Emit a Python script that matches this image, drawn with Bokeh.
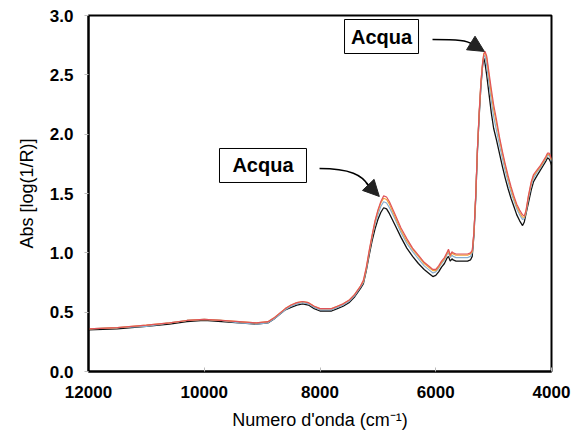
from bokeh.plotting import figure
from bokeh.models import Range1d, FixedTicker, NumeralTickFormatter, Arrow, NormalHead
from bokeh.core.properties import value
from bokeh.embed import file_html
from bokeh.resources import INLINE

wn = [12000, 11500, 11000, 10600, 10300, 10000, 9700, 9400, 9100, 8900,
      8800, 8700, 8600, 8500, 8400, 8300, 8200, 8100, 8000, 7900,
      7800, 7700, 7600, 7500, 7400, 7300, 7250, 7200, 7150, 7100,
      7050, 7000, 6950, 6900, 6850, 6800, 6700, 6600, 6500, 6400,
      6300, 6200, 6100, 6050, 6000, 5950, 5900, 5850, 5800, 5780,
      5750, 5720, 5700, 5650, 5600, 5500, 5450, 5400, 5370, 5340,
      5310, 5280, 5250, 5220, 5190, 5170, 5150, 5120, 5080, 5040,
      5000, 4950, 4900, 4850, 4800, 4750, 4700, 4650, 4600, 4550,
      4500, 4470, 4440, 4400, 4350, 4310, 4250, 4200, 4150, 4100,
      4070, 4040, 4020, 4000]

abs_black = [0.35, 0.36, 0.38, 0.40, 0.42, 0.43, 0.42, 0.41, 0.40, 0.41,
             0.44, 0.48, 0.52, 0.54, 0.56, 0.57, 0.56, 0.53, 0.51, 0.51,
             0.51, 0.53, 0.55, 0.58, 0.63, 0.70, 0.74, 0.85, 0.98, 1.10,
             1.20, 1.28, 1.34, 1.38, 1.37, 1.33, 1.23, 1.13, 1.04, 0.97,
             0.91, 0.86, 0.82, 0.80, 0.81, 0.84, 0.88, 0.91, 0.96, 0.97,
             0.93, 0.95, 0.94, 0.93, 0.93, 0.93, 0.93, 0.94, 0.97, 1.15,
             1.45, 1.85, 2.15, 2.40, 2.58, 2.64, 2.60, 2.50, 2.34, 2.18,
             2.05, 1.95, 1.84, 1.73, 1.63, 1.54, 1.46, 1.39, 1.32, 1.27,
             1.23, 1.26, 1.33, 1.42, 1.53, 1.60, 1.65, 1.69, 1.73, 1.77,
             1.80, 1.79, 1.77, 1.74]

abs_blue = [0.36, 0.37, 0.38, 0.41, 0.43, 0.44, 0.43, 0.41, 0.40, 0.41,
            0.44, 0.48, 0.52, 0.55, 0.57, 0.58, 0.57, 0.54, 0.52, 0.52,
            0.52, 0.54, 0.56, 0.59, 0.64, 0.71, 0.75, 0.86, 1.00, 1.13,
            1.24, 1.32, 1.39, 1.43, 1.42, 1.38, 1.28, 1.17, 1.08, 1.01,
            0.95, 0.89, 0.85, 0.83, 0.84, 0.87, 0.91, 0.94, 0.99, 1.00,
            0.96, 0.98, 0.97, 0.96, 0.96, 0.96, 0.96, 0.97, 1.00, 1.17,
            1.47, 1.87, 2.17, 2.42, 2.59, 2.66, 2.66, 2.58, 2.43, 2.28,
            2.15, 2.03, 1.91, 1.80, 1.69, 1.60, 1.51, 1.44, 1.37, 1.32,
            1.28, 1.29, 1.34, 1.45, 1.57, 1.63, 1.68, 1.71, 1.75, 1.79,
            1.82, 1.82, 1.80, 1.77]

abs_orange = [0.36, 0.37, 0.39, 0.41, 0.43, 0.44, 0.43, 0.42, 0.41, 0.42,
              0.45, 0.49, 0.53, 0.56, 0.58, 0.59, 0.58, 0.55, 0.53, 0.53,
              0.53, 0.55, 0.57, 0.60, 0.65, 0.72, 0.76, 0.87, 1.01, 1.14,
              1.26, 1.35, 1.42, 1.46, 1.45, 1.41, 1.30, 1.19, 1.10, 1.03,
              0.97, 0.91, 0.87, 0.85, 0.85, 0.88, 0.92, 0.95, 1.00, 1.02,
              0.97, 1.00, 0.99, 0.98, 0.98, 0.98, 0.98, 0.99, 1.01, 1.17,
              1.48, 1.88, 2.18, 2.44, 2.61, 2.68, 2.69, 2.64, 2.49, 2.34,
              2.21, 2.09, 1.96, 1.84, 1.73, 1.63, 1.54, 1.46, 1.39, 1.34,
              1.30, 1.30, 1.35, 1.47, 1.59, 1.65, 1.69, 1.72, 1.76, 1.80,
              1.83, 1.83, 1.81, 1.78]

abs_red = [0.36, 0.37, 0.39, 0.41, 0.43, 0.44, 0.43, 0.42, 0.41, 0.42,
           0.45, 0.49, 0.53, 0.56, 0.58, 0.59, 0.58, 0.55, 0.53, 0.53,
           0.53, 0.55, 0.57, 0.60, 0.65, 0.72, 0.77, 0.88, 1.02, 1.15,
           1.27, 1.36, 1.43, 1.48, 1.47, 1.43, 1.32, 1.21, 1.12, 1.04,
           0.98, 0.92, 0.88, 0.86, 0.86, 0.89, 0.93, 0.96, 1.01, 1.03,
           0.98, 1.01, 1.00, 0.99, 0.99, 0.99, 0.99, 1.00, 1.02, 1.18,
           1.48, 1.88, 2.18, 2.44, 2.60, 2.67, 2.70, 2.66, 2.52, 2.38,
           2.25, 2.12, 1.98, 1.86, 1.75, 1.65, 1.56, 1.48, 1.41, 1.36,
           1.32, 1.31, 1.36, 1.48, 1.60, 1.66, 1.70, 1.73, 1.77, 1.81,
           1.84, 1.84, 1.82, 1.79]

x_ticks = [12000, 10000, 8000, 6000, 4000]
y_ticks = [0.0, 0.5, 1.0, 1.5, 2.0, 2.5, 3.0]
x_title = "Numero d'onda (cm\u207b\u00b9)"
y_title = "Abs [log(1/R)]"

# annotation boxes (centre in data units)
label_text = ["Acqua", "Acqua"]
label_x = [8985, 6937]
label_y = [1.736, 2.823]
label_w = [87, 74]

# arrow shafts (bezier) and heads
shaft_x0 = [8008, 6056]
shaft_y0 = [1.711, 2.798]
shaft_cx0 = [7473, 5606]
shaft_cy0 = [1.711, 2.798]
shaft_cx1 = [7265, 5450]
shaft_cy1 = [1.652, 2.790]
shaft_x1 = [7170, 5380]
shaft_y1 = [1.570, 2.760]
head_xs = [7200, 5400]
head_ys = [1.590, 2.770]
head_xe = [6975, 5160]
head_ye = [1.475, 2.697]

p = figure(width=572, height=433, output_backend="svg", toolbar_location=None,
           x_range=Range1d(12000, 4000), y_range=Range1d(0, 3.0),
           min_border_left=88, min_border_right=21, min_border_top=15,
           min_border_bottom=62)
p.background_fill_color = "white"
p.border_fill_color = "white"
p.outline_line_color = "black"
p.outline_line_width = 2
p.xgrid.visible = False
p.ygrid.visible = False

font = "Liberation Sans"
for ax in (p.xaxis[0], p.yaxis[0]):
    ax.axis_line_color = "black"
    ax.axis_line_width = 2
    ax.major_tick_line_color = "#bbbbbb"
    ax.minor_tick_line_color = None
    ax.major_label_text_font = font
    ax.major_label_text_font_style = "bold"
    ax.major_label_text_font_size = "17px"
    ax.major_label_text_color = "black"
    ax.axis_label_text_font = font
    ax.axis_label_text_font_style = "normal"
    ax.axis_label_text_font_size = "18px"
    ax.axis_label_text_color = "black"

p.xaxis.ticker = FixedTicker(ticks=x_ticks)
p.yaxis.ticker = FixedTicker(ticks=y_ticks)
p.yaxis.formatter = NumeralTickFormatter(format="0.0")
p.xaxis.formatter = NumeralTickFormatter(format="0")
p.xaxis.major_tick_in = 4
p.xaxis.major_tick_out = 0
p.yaxis.major_tick_in = 0
p.yaxis.major_tick_out = 4
p.xaxis.major_label_standoff = 14
p.yaxis.major_label_standoff = 11
p.xaxis.axis_label = x_title
p.yaxis.axis_label = y_title
p.xaxis.axis_label_standoff = 9
p.yaxis.axis_label_standoff = 10

p.line(wn, abs_black, line_color="#111111", line_width=1.3)
p.line(wn, abs_blue, line_color="#86aed0", line_width=1.2)
p.line(wn, abs_orange, line_color="#f2a33a", line_width=1.2)
p.line(wn, abs_red, line_color="#e0545a", line_width=1.2)

p.rect(x=label_x, y=label_y, width=label_w, height=[34, 34],
       width_units="screen", height_units="screen",
       fill_color="white", line_color="black", line_width=1)
p.text(x=label_x, y=label_y, text=label_text, text_align="center",
       text_baseline="middle", text_font=value(font), text_font_style="bold",
       text_font_size="20px", text_color="black")

p.bezier(x0=shaft_x0, y0=shaft_y0, x1=shaft_x1, y1=shaft_y1,
         cx0=shaft_cx0, cy0=shaft_cy0, cx1=shaft_cx1, cy1=shaft_cy1,
         line_color="black", line_width=1.5)
for i in range(2):
    p.add_layout(Arrow(end=NormalHead(size=16, fill_color="#222222", line_color="#222222"),
                       x_start=head_xs[i], y_start=head_ys[i],
                       x_end=head_xe[i], y_end=head_ye[i],
                       line_color="black", line_width=1.5))

open("out.html", "w").write(file_html(p, INLINE))
